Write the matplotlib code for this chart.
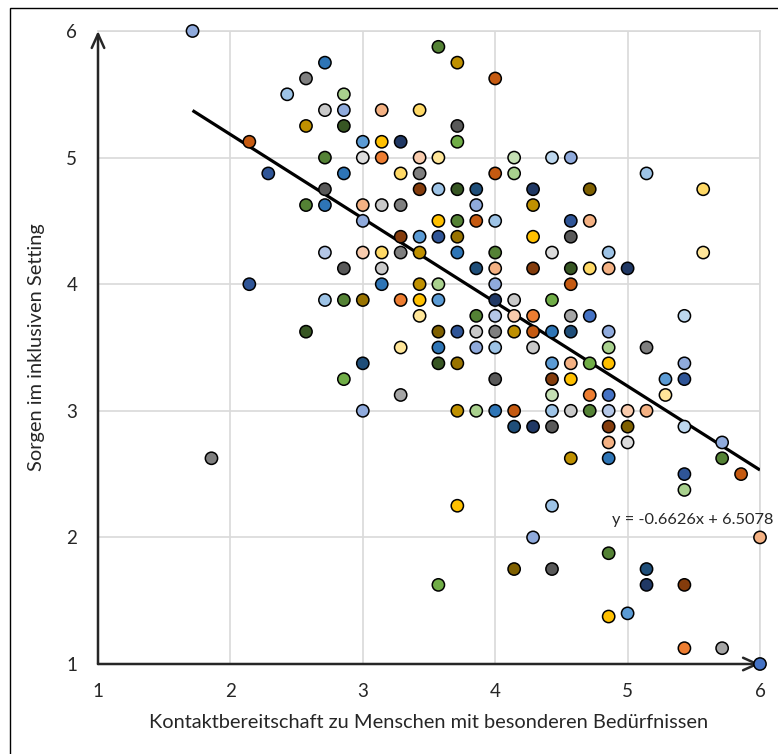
import matplotlib
matplotlib.use("Agg")
import matplotlib.pyplot as plt
from matplotlib.patches import Rectangle

plt.rcParams['font.family'] = ['Lato', 'DejaVu Sans']

# ---- data ----
x_vals = [1.714, 1.857, 2.143, 2.143, 2.286, 2.429, 2.571, 2.571, 2.571, 2.571,
          2.714, 2.714, 2.714, 2.714, 2.714, 2.714, 2.714,
          2.857, 2.857, 2.857, 2.857, 2.857, 2.857, 2.857,
          3.0, 3.0, 3.0, 3.0, 3.0, 3.0, 3.0, 3.0,
          3.143, 3.143, 3.143, 3.143, 3.143, 3.143, 3.143,
          3.286, 3.286, 3.286, 3.286, 3.286, 3.286, 3.286, 3.286,
          3.429, 3.429, 3.429, 3.429, 3.429, 3.429, 3.429, 3.429, 3.429,
          3.571, 3.571, 3.571, 3.571, 3.571, 3.571, 3.571, 3.571, 3.571, 3.571, 3.571,
          3.714, 3.714, 3.714, 3.714, 3.714, 3.714, 3.714, 3.714, 3.714, 3.714, 3.714,
          3.857, 3.857, 3.857, 3.857, 3.857, 3.857, 3.857, 3.857,
          4.0, 4.0, 4.0, 4.0, 4.0, 4.0, 4.0, 4.0, 4.0, 4.0, 4.0, 4.0,
          4.143, 4.143, 4.143, 4.143, 4.143, 4.143, 4.143, 4.143,
          4.286, 4.286, 4.286, 4.286, 4.286, 4.286, 4.286, 4.286, 4.286,
          4.429, 4.429, 4.429, 4.429, 4.429, 4.429, 4.429, 4.429, 4.429, 4.429, 4.429,
          4.571, 4.571, 4.571, 4.571, 4.571, 4.571, 4.571, 4.571, 4.571, 4.571, 4.571,
          4.714, 4.714, 4.714, 4.714, 4.714, 4.714, 4.714,
          4.857, 4.857, 4.857, 4.857, 4.857, 4.857, 4.857, 4.857, 4.857, 4.857, 4.857, 4.857,
          5.0, 5.0, 5.0, 5.0, 5.0,
          5.143, 5.143, 5.143, 5.143, 5.143,
          5.286, 5.286,
          5.429, 5.429, 5.429, 5.429, 5.429, 5.429, 5.429, 5.429,
          5.571, 5.571,
          5.714, 5.714, 5.714,
          5.857,
          6.0, 6.0]

y_vals = [6.0, 2.625, 5.125, 4.0, 4.875, 5.5, 5.625, 5.25, 4.625, 3.625,
          5.75, 5.375, 5.0, 4.75, 4.625, 4.25, 3.875,
          5.5, 5.375, 5.25, 4.875, 4.125, 3.875, 3.25,
          5.125, 5.0, 4.625, 4.5, 4.25, 3.875, 3.375, 3.0,
          5.375, 5.125, 5.0, 4.625, 4.25, 4.125, 4.0,
          5.125, 4.875, 4.625, 4.375, 4.25, 3.875, 3.5, 3.125,
          5.375, 5.0, 4.875, 4.75, 4.375, 4.25, 4.0, 3.875, 3.75,
          5.875, 5.0, 4.75, 4.5, 4.375, 4.0, 3.875, 3.625, 3.5, 3.375, 1.625,
          5.75, 5.25, 5.125, 4.75, 4.5, 4.375, 4.25, 3.625, 3.375, 3.0, 2.25,
          4.75, 4.625, 4.5, 4.125, 3.75, 3.625, 3.5, 3.0,
          5.625, 4.875, 4.5, 4.25, 4.125, 4.0, 3.875, 3.75, 3.625, 3.5, 3.25, 3.0,
          5.0, 4.875, 3.875, 3.75, 3.625, 3.0, 2.875, 1.75,
          4.75, 4.625, 4.375, 4.125, 3.75, 3.625, 3.5, 2.875, 2.0,
          5.0, 4.25, 3.875, 3.625, 3.375, 3.25, 3.125, 3.0, 2.875, 2.25, 1.75,
          5.0, 4.5, 4.375, 4.125, 4.0, 3.75, 3.625, 3.375, 3.25, 3.0, 2.625,
          4.75, 4.5, 4.125, 3.75, 3.375, 3.125, 3.0,
          4.25, 4.125, 3.625, 3.5, 3.375, 3.125, 3.0, 2.875, 2.75, 2.625, 1.875, 1.375,
          4.125, 3.0, 2.875, 2.75, 1.4,
          4.875, 3.5, 3.0, 1.75, 1.625,
          3.25, 3.125,
          3.75, 3.375, 3.25, 2.875, 2.5, 2.375, 1.625, 1.125,
          4.75, 4.25,
          2.75, 2.625, 1.125,
          2.5,
          2.0, 1.0]

point_colors = ['p1', 'g2', 'o2', 'n1', 'n1', 'b4', 'g2', 'y4', 'e2', 'e3',
                'b2', 'g4', 'e2', 'g3', 'b2', 'p2', 'b4',
                'e4', 'p1', 'e3', 'b2', 'g3', 'e2', 'e1',
                'b3', 'g5', 'o4', 'p1', 'o5', 'y6', 't1', 'p1',
                'o4', 'y1', 'o1', 'g4', 'y2', 'g4', 'b2',
                'n2', 'y2', 'g2', 'o3', 'g2', 'o1', 'y3', 'g1',
                'y2', 'o5', 'g2', 'o3', 'b3', 'y4', 'y4', 'y1', 'y3',
                'e2', 'y3', 'b4', 'y1', 'n1', 'e4', 'b3', 'y5', 'b2', 'e3', 'e1',
                'y4', 'g3', 'e1', 'e3', 'e2', 'y6', 'b2', 'n1', 'y6', 'y4', 'y1',
                't1', 'p1', 'o2', 't1', 'e2', 'g4', 'p1', 'e4',
                'o2', 'o2', 'b4', 'e2', 'o4', 'p1', 'n2', 'p2', 'g2', 'b4', 'g3', 'b2',
                'e5', 'e4', 'g4', 'o5', 'y4', 'o2', 't1', 'y5',
                'n2', 'y4', 'y1', 'o3', 'o1', 'o2', 'g4', 'n2', 'p1',
                'b5', 'g5', 'e1', 'b2', 'b3', 'o3', 'e5', 'b4', 'g3', 'b4', 'g3',
                'p1', 'n1', 'g3', 'e3', 'o2', 'g1', 't1', 'o4', 'y1', 'g4', 'y4',
                'y5', 'o4', 'y2', 'b1', 'e1', 'o1', 'e2',
                'b4', 'o4', 'p1', 'e4', 'y1', 'b1', 'p2', 'o3', 'o4', 'b2', 'e2', 'y1',
                'n2', 'o5', 'y5', 'g5', 'b3',
                'b4', 'g2', 'o4', 't1', 'n2',
                'b3', 'y3',
                'b5', 'p1', 'n1', 'b5', 'n1', 'e4', 'o3', 'o1',
                'y2', 'y3',
                'p1', 'e2', 'g1',
                'o2',
                'o4', 'b1']

palette = {
    'b1': '#4472C4', 'b2': '#2E75B6', 'b3': '#5B9BD5', 'b4': '#9DC3E6', 'b5': '#BDD7EE',
    'p1': '#8FAADC', 'p2': '#B4C7E7', 'n1': '#2F5597', 'n2': '#203864', 't1': '#1F4E79',
    'o1': '#ED7D31', 'o2': '#C55A11', 'o3': '#843C0C', 'o4': '#F4B183', 'o5': '#F8CBAD',
    'g1': '#A5A5A5', 'g2': '#7F7F7F', 'g3': '#595959', 'g4': '#C9C9C9', 'g5': '#DBDBDB',
    'y1': '#FFC000', 'y2': '#FFD966', 'y3': '#FFE699', 'y4': '#BF9000', 'y5': '#7F6000',
    'y6': '#997300',
    'e1': '#70AD47', 'e2': '#548235', 'e3': '#375623', 'e4': '#A9D18E', 'e5': '#C5E0B4',
}

slope = -0.6626
intercept = 6.5078
trend_label = "y = -0.6626x + 6.5078"
x_ticks = [1, 2, 3, 4, 5, 6]
y_ticks = [1, 2, 3, 4, 5, 6]
x_title = "Kontaktbereitschaft zu Menschen mit besonderen Bedürfnissen"
y_title = "Sorgen im inklusiven Setting"

# ---- figure ----
W, H = 778, 754
fig = plt.figure(figsize=(W / 100, H / 100), dpi=100)
ax = fig.add_axes([98 / W, (H - 664) / H, (760 - 98) / W, (664 - 31) / H])

ax.set_xlim(1, 6)
ax.set_ylim(1, 6)
ax.set_xticks(x_ticks)
ax.set_yticks(y_ticks)
ax.set_xticklabels([str(t) for t in x_ticks])
ax.set_yticklabels([str(t) for t in y_ticks])
ax.tick_params(length=0, labelsize=13.5, colors='#262626')
ax.tick_params(axis='x', pad=14)
ax.tick_params(axis='y', pad=15)
ax.grid(True, color='#D9D9D9', lw=1.2, zorder=0)
ax.set_axisbelow(True)
for s in ax.spines.values():
    s.set_visible(False)
ax.axhline(6, color='#D9D9D9', lw=1.2, zorder=0, clip_on=False)
ax.axvline(6, color='#D9D9D9', lw=1.2, zorder=0, clip_on=False)

# axes with arrowheads
arrow_kw = dict(arrowstyle='->,head_length=1.0,head_width=0.45', lw=1.8,
                color='#262626', shrinkA=0, shrinkB=0, mutation_scale=10)
ax.annotate('', xy=(0, 1), xycoords='axes fraction', xytext=(0, 0),
            textcoords='axes fraction', arrowprops=arrow_kw, zorder=2)
ax.annotate('', xy=(1, 0), xycoords='axes fraction', xytext=(0, 0),
            textcoords='axes fraction', arrowprops=arrow_kw, zorder=2)

# points
cols = [palette[c] for c in point_colors]
ax.scatter(x_vals, y_vals, s=78, c=cols, edgecolors='black', linewidths=1.1,
           zorder=4, clip_on=False)

# trendline
x0, x1 = min(x_vals), max(x_vals)
ax.plot([x0, x1], [slope * x0 + intercept, slope * x1 + intercept],
        color='black', lw=2.3, zorder=3, solid_capstyle='butt')
ax.text(4.88, 2.137, trend_label, fontsize=11.8, color='#262626',
        ha='left', va='center', zorder=5, clip_on=False)

ax.set_xlabel(x_title, fontsize=14.4, color='#262626', labelpad=10)
ax.set_ylabel(y_title, fontsize=14.4, color='#262626', labelpad=15)

# chart-area border (extends beyond the right/bottom edges)
fig.patches.append(Rectangle((10 / W, -0.1), 1.2, 0.1 + (H - 8) / H,
                             transform=fig.transFigure, fill=False,
                             edgecolor='black', lw=1.0))

fig.savefig('out.png', dpi=100)
